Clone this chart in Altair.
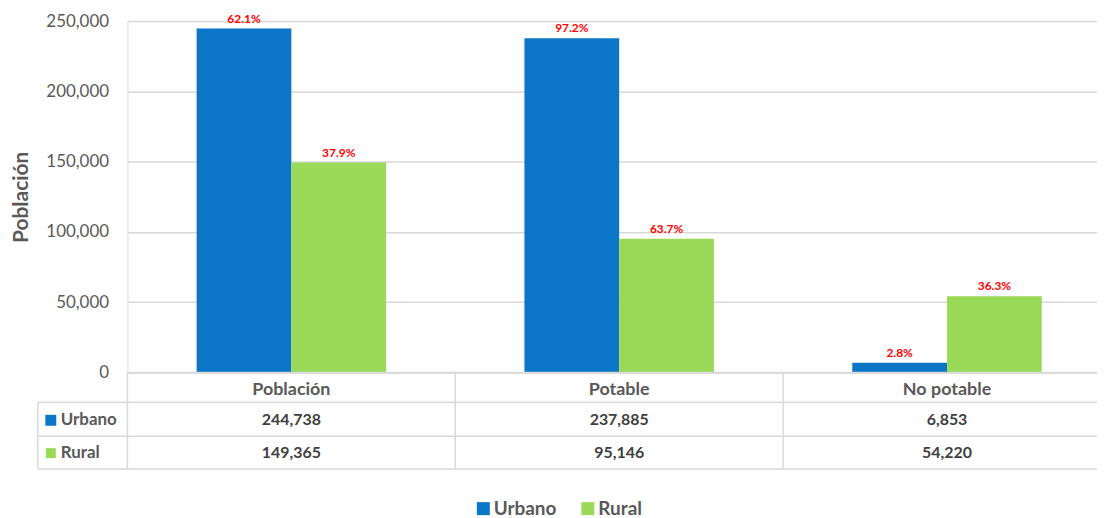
import altair as alt
import pandas as pd

categories = ["Población", "Potable", "No potable"]
series = ["Urbano", "Rural"]
urbano = [244738, 237885, 6853]
rural = [149365, 95146, 54220]
pct_urbano = ["62.1%", "97.2%", "2.8%"]
pct_rural = ["37.9%", "63.7%", "36.3%"]
y_ticks = [0, 50000, 100000, 150000, 200000, 250000]
colors = ["#0B76C8", "#9BDA59"]

rows = []
for i, c in enumerate(categories):
    rows.append({"cat": c, "series": "Urbano", "value": urbano[i], "pct": pct_urbano[i]})
    rows.append({"cat": c, "series": "Rural", "value": rural[i], "pct": pct_rural[i]})
df = pd.DataFrame(rows)
df["label"] = df["value"].map(lambda v: f"{v:,}")
cat_df = pd.DataFrame({"cat": categories})
ser_df = pd.DataFrame({"series": series, "color": colors})

FONT = "Lato"
GRAY = "#595959"
LINE = "#D9D9D9"
W, H = 974, 353

xenc = alt.X("cat:N", sort=categories, title=None, axis=None,
             scale=alt.Scale(range=[0, 988], paddingInner=0, paddingOuter=0))
xoff = alt.XOffset("series:N", sort=series,
                   scale=alt.Scale(paddingOuter=0.73, paddingInner=0))

bars = alt.Chart(df).mark_bar().encode(
    x=xenc,
    xOffset=xoff,
    y=alt.Y("value:Q", title="Población",
            scale=alt.Scale(domain=[0, 250000], nice=False),
            axis=alt.Axis(values=y_ticks, format=",.0f", domain=False, ticks=False,
                          labelPadding=19, labelFontSize=17, labelColor=GRAY,
                          labelFont=FONT, titleFont=FONT, titleFontSize=21,
                          titleFontWeight="bold", titleColor=GRAY,
                          titleX=-106, titleY=H / 2, titleBaseline="middle",
                          titleAngle=270,
                          gridColor=LINE, gridWidth=1.5)),
    color=alt.Color("series:N", sort=series,
                    scale=alt.Scale(domain=series, range=colors),
                    legend=alt.Legend(orient="none", legendX=348, legendY=480,
                                      direction="horizontal", title=None,
                                      symbolType="square", symbolSize=170,
                                      symbolStrokeWidth=0, labelFontSize=19,
                                      labelFont=FONT, labelFontWeight="bold",
                                      labelColor=GRAY, columnPadding=22,
                                      labelOffset=1)),
)

pcts = alt.Chart(df).mark_text(dy=-10, color="#FF0000", fontWeight="bold",
                               fontSize=12, font=FONT).encode(
    x=xenc, xOffset=xoff, y=alt.Y("value:Q"), text="pct:N")

# table grid
hlines = []
for yy, x0 in [(353, 0), (383, -90), (417, -90), (450, -90)]:
    hlines.append(alt.Chart(cat_df.head(1)).mark_rule(color=LINE, strokeWidth=1.5).encode(
        x=alt.value(x0), x2=alt.value(W), y=alt.value(yy)))
vlines = alt.Chart(cat_df).mark_rule(color=LINE, strokeWidth=1.5).encode(
    x=alt.X("cat:N", sort=categories, bandPosition=0), y=alt.value(353), y2=alt.value(450))
leftline = alt.Chart(cat_df.head(1)).mark_rule(color=LINE, strokeWidth=1.5).encode(
    x=alt.value(-90), y=alt.value(383), y2=alt.value(450))

header = alt.Chart(cat_df).mark_text(fontSize=18, font=FONT, color=GRAY,
                                     fontWeight="bold").encode(
    x=alt.X("cat:N", sort=categories), y=alt.value(371), text="cat:N")

row_layers = []
for s, yy in [("Urbano", 401), ("Rural", 434)]:
    row_layers.append(alt.Chart(df).transform_filter(alt.datum.series == s).mark_text(
        fontSize=16, font=FONT, color="#404040", fontWeight="bold").encode(
        x=alt.X("cat:N", sort=categories), y=alt.value(yy), text="label:N"))
    row_layers.append(alt.Chart(ser_df).transform_filter(alt.datum.series == s).mark_text(
        fontSize=17, font=FONT, color=GRAY, fontWeight="bold", align="left").encode(
        x=alt.value(-67), y=alt.value(yy), text="series:N"))
    row_layers.append(alt.Chart(ser_df).transform_filter(alt.datum.series == s).mark_point(
        shape="square", filled=True, opacity=1, size=120 if s == "Urbano" else 100).encode(
        x=alt.value(-77), y=alt.value(yy),
        color=alt.value(colors[series.index(s)])))

chart = alt.layer(bars, pcts, *hlines, vlines, leftline, header, *row_layers).properties(
    width=W, height=H,
    autosize=alt.AutoSizeParams(type="none"),
    padding={"left": 120, "top": 12, "right": 0, "bottom": 148},
).configure_view(stroke=None).configure(background="white")

chart.save("out.html", embed_options={"renderer": "svg", "actions": False})
